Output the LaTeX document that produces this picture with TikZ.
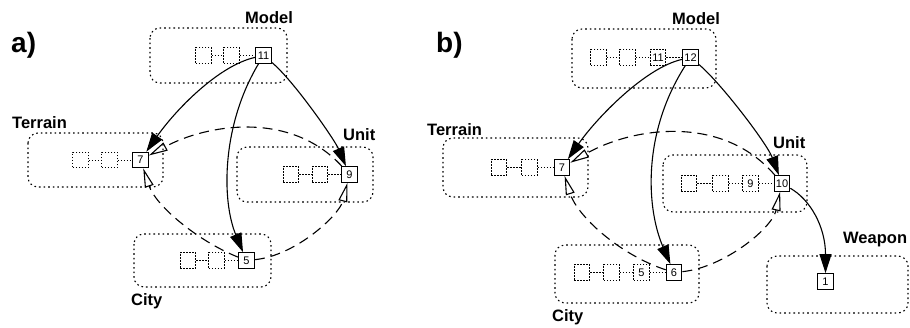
\documentclass[tikz,border=0pt]{standalone}
\usepackage{fontspec}
\setmainfont{Liberation Sans}
\usetikzlibrary{arrows.meta}
\begin{document}
\begin{tikzpicture}[x=1pt,y=-1pt,
  grp/.style={draw, dash pattern=on 1.6pt off 3pt, line width=1.1pt, rounded corners=10pt},
  hid/.style={draw, dash pattern=on 1.5pt off 1.5pt, line width=1pt, minimum size=15.5pt,
    inner sep=0pt, font=\fontsize{11}{11}\selectfont},
  cur/.style={draw, line width=1.2pt, minimum size=15.5pt, inner sep=0pt, fill=white,
    font=\fontsize{11}{11}\selectfont},
  link/.style={dash pattern=on 1.5pt off 1.5pt, line width=1pt},
  ref/.style={line width=1.1pt, -{Triangle[length=19pt,width=12pt]}},
  dep/.style={line width=1.1pt, dash pattern=on 10pt off 6pt, -{Triangle[open,length=19pt,width=9pt]}},
  title/.style={font=\fontsize{16.5}{18}\selectfont\bfseries, anchor=base west, inner sep=0pt},
  panel/.style={font=\fontsize{28}{30}\selectfont\bfseries, anchor=base west, inner sep=0pt}]
\useasboundingbox (0,0) rectangle (910,327);

% ---------------- panel a ----------------
\node[panel] (pa) at (11,52) {a)};
\node[title] (ta1) at (245,23) {Model};
\node[title] (ta2) at (12,128) {Terrain};
\node[title] (ta3) at (343,140) {Unit};
\node[title] (ta4) at (131,305) {City};

\draw[grp] (150,28) rectangle (287,83);
\draw[grp] (28,133) rectangle (163,187);
\draw[grp] (237,147) rectangle (373,202);
\draw[grp] (134,234) rectangle (271,287);

\node[hid] (am1) at (203.5,55.5) {};
\node[hid] (am2) at (231.5,55.5) {};
\node[cur] (a11) at (263.5,55.5) {11};
\node[hid] (at1) at (80.5,160) {};
\node[hid] (at2) at (109.5,160) {};
\node[cur] (a7) at (140.5,160) {7};
\node[hid] (au1) at (291,174.5) {};
\node[hid] (au2) at (320,174.5) {};
\node[cur] (a9) at (349.5,174.5) {9};
\node[hid] (ac1) at (188,260.5) {};
\node[hid] (ac2) at (216.5,260.5) {};
\node[cur] (a5) at (246.5,260.5) {5};

\draw[link] (am1) -- (am2); \draw[link] (am2) -- (a11);
\draw[link] (at1) -- (at2); \draw[link] (at2) -- (a7);
\draw[link] (au1) -- (au2); \draw[link] (au2) -- (a9);
\draw[link] (ac1) -- (ac2); \draw[link] (ac2) -- (a5);

\draw[ref] (a11) .. controls +(-45,10) and +(35,-50) .. (a7);
\draw[ref] (a11) .. controls +(-42,70) and +(-25,-60) .. (a5);
\draw[ref] (a11) .. controls +(30,25) and +(-15,-35) .. (a9);
\draw[dep] (a9) .. controls +(-60,-65) and +(65,-35) .. (a7);
\draw[dep] (a5) .. controls +(-50,-20) and +(15,45) .. (a7);
\draw[dep] (a5) .. controls +(50,-5) and +(-10,40) .. (a9);

% ---------------- panel b ----------------
\node[panel] (pb) at (436,52) {b)};
\node[title] (tb1) at (672,24) {Model};
\node[title] (tb2) at (427,135) {Terrain};
\node[title] (tb3) at (773,148) {Unit};
\node[title] (tb4) at (552,321) {City};
\node[title] (tb5) at (843,243) {Weapon};

\draw[grp] (572,29) rectangle (716,88);
\draw[grp] (443,138) rectangle (588,197);
\draw[grp] (663,155) rectangle (807,212);
\draw[grp] (555,245) rectangle (699,303);
\draw[grp] (767,256) rectangle (908,313);

\node[hid] (bm1) at (598.5,57.5) {};
\node[hid] (bm2) at (627.5,57.5) {};
\node[hid] (b11) at (658,57.5) {11};
\node[cur] (b12) at (690.5,57.5) {12};
\node[hid] (bt1) at (499,167.5) {};
\node[hid] (bt2) at (529.5,167.5) {};
\node[cur] (b7) at (562,167.5) {7};
\node[hid] (bu1) at (689,183.5) {};
\node[hid] (bu2) at (720.5,183.5) {};
\node[hid] (b9) at (750.5,183.5) {9};
\node[cur] (b10) at (782,183.5) {10};
\node[hid] (bc1) at (582,272.5) {};
\node[hid] (bc2) at (611.5,272.5) {};
\node[hid] (b5) at (641.5,272.5) {5};
\node[cur] (b6) at (674,272.5) {6};
\node[cur] (b1) at (825.5,281.5) {1};

\draw[link] (bm1) -- (bm2); \draw[link] (bm2) -- (b11); \draw[link] (b11) -- (b12);
\draw[link] (bt1) -- (bt2); \draw[link] (bt2) -- (b7);
\draw[link] (bu1) -- (bu2); \draw[link] (bu2) -- (b9); \draw[link] (b9) -- (b10);
\draw[link] (bc1) -- (bc2); \draw[link] (bc2) -- (b5); \draw[link] (b5) -- (b6);

\draw[ref] (b12) .. controls +(-45,10) and +(35,-50) .. (b7);
\draw[ref] (b12) .. controls +(-48,75) and +(-28,-65) .. (b6);
\draw[ref] (b12) .. controls +(30,25) and +(-15,-40) .. (b10);
\draw[ref] (b10) .. controls +(28,16) and +(0,-55) .. (b1);
\draw[dep] (b10) .. controls +(-60,-70) and +(70,-40) .. (b7);
\draw[dep] (b6) .. controls +(-55,-18) and +(15,48) .. (b7);
\draw[dep] (b6) .. controls +(50,-5) and +(-10,45) .. (b10);
\end{tikzpicture}
\end{document}
